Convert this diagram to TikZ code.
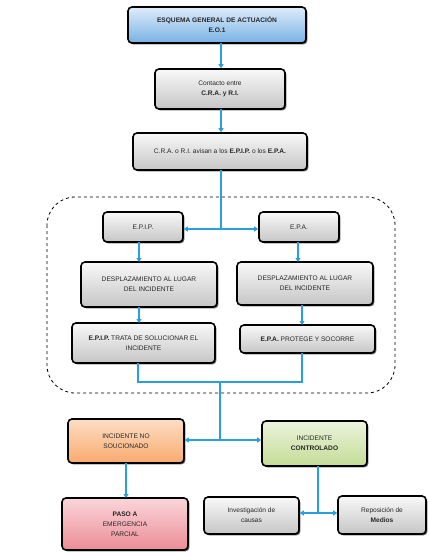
\documentclass[tikz,border=0pt]{standalone}
\usepackage{fontspec}
\setmainfont{Liberation Sans}
\usetikzlibrary{shadows,arrows.meta,positioning}
\definecolor{linecol}{RGB}{41,160,222}
\definecolor{bluetop}{RGB}{222,236,250}
\definecolor{bluebot}{RGB}{120,178,228}
\definecolor{ortop}{RGB}{253,222,196}
\definecolor{orbot}{RGB}{249,170,110}
\definecolor{grtop}{RGB}{236,244,220}
\definecolor{grbot}{RGB}{196,220,150}
\definecolor{rdtop}{RGB}{250,214,218}
\definecolor{rdbot}{RGB}{236,140,150}
\tikzset{
  x=1pt,y=-1pt,
  boxst/.style={rounded corners=4pt, draw=black, line width=1.6pt,
    top color=gray!5, bottom color=gray!45,
    drop shadow={shadow xshift=1.4pt, shadow yshift=-1.4pt, fill=black!75, opacity=0.85},
    align=center, inner sep=1pt, font=\fontsize{6.6}{10}\selectfont, text=black!85},
  bluebox/.style={boxst, top color=bluetop, bottom color=bluebot},
  orbox/.style={boxst, top color=ortop, bottom color=orbot},
  grbox/.style={boxst, top color=grtop, bottom color=grbot},
  rdbox/.style={boxst, top color=rdtop, bottom color=rdbot},
  conn/.style={draw=linecol, line width=1.3pt},
  arr/.style={conn, -{Triangle[length=4pt,width=5pt]}},
  darr/.style={conn, {Triangle[length=4pt,width=5pt]}-{Triangle[length=4pt,width=5pt]}},
}
\newcommand{\bx}[7]{\node[#1, minimum width=#4-#2, minimum height=#5-#3] (#6) at ({(#2+#4)/2},{(#3+#5)/2}) {#7};}
\begin{document}
\begin{tikzpicture}
\useasboundingbox (0,0) rectangle (429,558);
% dashed group
\draw[dashed, line width=0.8pt, rounded corners=28pt] (47,197) rectangle (395,393);
% boxes
\bx{bluebox}{128}{7}{306}{43}{esq}{\textbf{ESQUEMA GENERAL DE ACTUACIÓN}\\\textbf{E.O.1}}
\bx{boxst}{155}{69}{285}{109}{cont}{Contacto entre\\\textbf{C.R.A. y R.I.}}
\bx{boxst}{133}{133}{307}{170}{avis}{C.R.A. o R.I. avisan a los \textbf{E.P.I.P.} o los \textbf{E.P.A.}}
\bx{boxst}{103}{212}{183}{242}{epip}{E.P.I.P.}
\bx{boxst}{259}{212}{339}{242}{epa}{E.P.A.}
\bx{boxst}{81}{262}{217}{307}{desl}{DESPLAZAMIENTO AL LUGAR\\DEL INCIDENTE}
\bx{boxst}{237}{262}{373}{305}{desr}{DESPLAZAMIENTO AL LUGAR\\DEL INCIDENTE}
\bx{boxst}{72}{323}{215}{363}{trata}{\textbf{E.P.I.P.} TRATA DE SOLUCIONAR EL\\INCIDENTE}
\bx{boxst}{240}{325}{375}{353}{prot}{\textbf{E.P.A.} PROTEGE Y SOCORRE}
\bx{orbox}{68}{419}{184}{463}{nosol}{INCIDENTE NO\\SOUCIONADO}
\bx{grbox}{262}{421}{367}{466}{contr}{INCIDENTE\\\textbf{CONTROLADO}}
\bx{rdbox}{62}{498}{188}{550}{paso}{\textbf{PASO A}\\EMERGENCIA\\PARCIAL}
\bx{boxst}{204}{497}{299}{534}{inv}{Investigación de\\causas}
\bx{boxst}{338}{496}{426}{534}{rep}{Reposición de\\\textbf{Medios}}
% connectors
\coordinate (c1) at (221,43);
\coordinate (c2) at (221,109);
\coordinate (c3) at (221,170);
\path[arr] (c1) -- (c1 |- cont.north);
\path[arr] (c2) -- (c2 |- avis.north);
\coordinate (j1) at (221,229);
\path[conn] (c3) -- (j1);
\path[darr] (epip.east |- j1) -- (epa.west |- j1);
\path[arr] (139,242) -- (139,262);
\path[arr] (298,242) -- (298,262);
\path[arr] (139,307) -- (139,323);
\path[arr] (302,305) -- (302,325);
\coordinate (j2) at (220,382);
\coordinate (j3) at (220,440);
\path[conn] (138,363) -- (138,382) -- (302,382) -- (302,353);
\path[conn] (j2) -- (j3);
\path[darr] (nosol.east |- j3) -- (contr.west |- j3);
\path[arr] (126,463) -- (126,498);
\coordinate (j4) at (318,513);
\path[conn] (318,466) -- (j4);
\path[darr] (inv.east |- j4) -- (rep.west |- j4);
\end{tikzpicture}
\end{document}
